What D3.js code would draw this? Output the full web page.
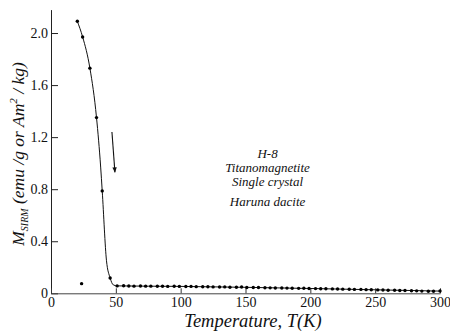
<!DOCTYPE html>
<html>
<head>
<meta charset="utf-8">
<script src="https://cdn.jsdelivr.net/npm/d3@7"></script>
<style>
  body { margin: 0; background: #fff; }
  svg text { font-family: "Liberation Serif", "Times New Roman", "DejaVu Serif", serif; }
</style>
</head>
<body>
<svg width="450" height="334"></svg>
<script>
// measured points, steep part (T in K, M in emu/g)
const lowT = [20.3, 24.4, 30, 35.1, 39.5, 45.6];
const lowM = [2.09, 1.97, 1.73, 1.35, 0.787, 0.118];
// stray point near 24 K
const strayT = [23.6];
const strayM = [0.074];
// plateau points
const plateauT = [51,56,60,64,69,73,77,82,86,90,95,99,104,108,112,117,121,125,130,134,138,143,147,151,156,160,165,169,173,178,182,186,191,195,199,204,208,212,217,221,225,230,234,239,243,247,252,256,260,265,269,273,278,282,286,291,295,300];
const plateauM = [0.057,0.058,0.056,0.055,0.056,0.055,0.055,0.054,0.054,0.053,0.054,0.053,
                  0.052,0.053,0.051,0.050,0.050,0.049,0.048,0.049,0.047,0.046,0.048,0.045,
                  0.044,0.044,0.043,0.042,0.041,0.041,0.040,0.039,0.038,0.039,0.037,0.036,
                  0.035,0.035,0.034,0.033,0.032,0.031,0.030,0.030,0.028,0.027,0.026,0.025,
                  0.024,0.023,0.022,0.021,0.020,0.019,0.017,0.016,0.016,0.018];
// fitted curve drawn through the data
const fitT = [20.3, 24.4, 30, 35.1, 38.3, 39.5, 42.8, 45.6, 48, 51, 100, 150, 200, 250, 300];
const fitM = [2.09, 1.97, 1.73, 1.35, 0.97, 0.787, 0.25, 0.118, 0.065, 0.057, 0.053, 0.046, 0.037, 0.027, 0.017];
const xTicks = [0, 50, 100, 150, 200, 250, 300];
const yTicks = [0, 0.4, 0.8, 1.2, 1.6, 2.0];
const notes = ["H-8", "Titanomagnetite", "Single crystal", "Haruna dacite"];

const svg = d3.select("svg");
const x = d3.scaleLinear().domain([0, 300]).range([51, 440]);
const y = d3.scaleLinear().domain([0, 2.18]).range([293.3, 9.6]);
const serif = "Liberation Serif, Times New Roman, serif";

// y axis, ticks pointing inward
const yAxis = svg.append("g").attr("transform", "translate(" + x(0) + ",0)")
  .call(d3.axisRight(y).tickValues(yTicks).tickSize(7).tickSizeOuter(0)
    .tickFormat(d => d === 0 ? "0" : d3.format(".1f")(d)));
yAxis.attr("font-family", serif);
yAxis.select(".domain").attr("stroke", "#222");
yAxis.selectAll(".tick line").attr("stroke", "#222");
yAxis.selectAll(".tick text").attr("x", -3).attr("text-anchor", "end")
  .attr("font-size", 14).attr("fill", "#111");

// x axis, ticks pointing up
const xAxis = svg.append("g").attr("transform", "translate(0," + y(0) + ")")
  .call(d3.axisTop(x).tickValues(xTicks).tickSize(5).tickSizeOuter(0));
xAxis.attr("font-family", serif);
xAxis.select(".domain").attr("stroke", "#444");
xAxis.selectAll(".tick line").attr("stroke", "#333");
xAxis.selectAll(".tick text").attr("y", 14).attr("dy", 0)
  .attr("font-size", 14).attr("fill", "#111");

// fitted curve
const fit = fitT.map((t, i) => [t, fitM[i]]);
svg.append("path").datum(fit)
  .attr("fill", "none").attr("stroke", "#111").attr("stroke-width", 1)
  .attr("d", d3.line().x(d => x(d[0])).y(d => y(d[1])).curve(d3.curveMonotoneX));

// dots
const pts = lowT.map((t, i) => [t, lowM[i]])
  .concat(strayT.map((t, i) => [t, strayM[i]]))
  .concat(plateauT.map((t, i) => [t, plateauM[i]]));
svg.selectAll("circle.pt").data(pts).enter().append("circle")
  .attr("class", "pt")
  .attr("cx", d => x(d[0])).attr("cy", d => y(d[1])).attr("r", 1.7).attr("fill", "#000");

// arrow marking the transition
svg.append("defs").append("marker").attr("id", "ah")
  .attr("viewBox", "0 0 10 10").attr("refX", 9).attr("refY", 5)
  .attr("markerWidth", 5).attr("markerHeight", 7).attr("orient", "auto")
  .append("path").attr("d", "M0,1 L10,5 L0,9 Z").attr("fill", "#111");
svg.append("line")
  .attr("x1", x(47.0)).attr("y1", y(1.24)).attr("x2", x(49.3)).attr("y2", y(0.93))
  .attr("stroke", "#111").attr("stroke-width", 1.1).attr("marker-end", "url(#ah)");

// sample notes
const noteY = [158, 172, 186, 206];
svg.selectAll("text.note").data(notes).enter().append("text")
  .attr("class", "note")
  .attr("x", x(167)).attr("y", (d, i) => noteY[i])
  .attr("text-anchor", "middle").attr("font-style", "italic")
  .attr("font-family", serif)
  .attr("font-size", 13).attr("fill", "#111").text(d => d);

// axis titles
svg.append("text").attr("x", 253).attr("y", 327)
  .attr("text-anchor", "middle").attr("font-style", "italic")
  .attr("font-family", serif)
  .attr("font-size", 18.5).attr("fill", "#111").text("Temperature, T(K)");

const yt = svg.append("text")
  .attr("transform", "translate(24,154) rotate(-90)")
  .attr("text-anchor", "middle").attr("font-style", "italic")
  .attr("font-family", serif)
  .attr("font-size", 17.5).attr("fill", "#111");
yt.append("tspan").text("M");
yt.append("tspan").attr("font-size", 10).attr("dy", 4).text("SIRM");
yt.append("tspan").attr("dy", -4).text(" (emu /g or Am");
yt.append("tspan").attr("font-size", 11).attr("dy", -7).text("2");
yt.append("tspan").attr("dy", 7).text(" / kg)");
</script>
</body>
</html>
